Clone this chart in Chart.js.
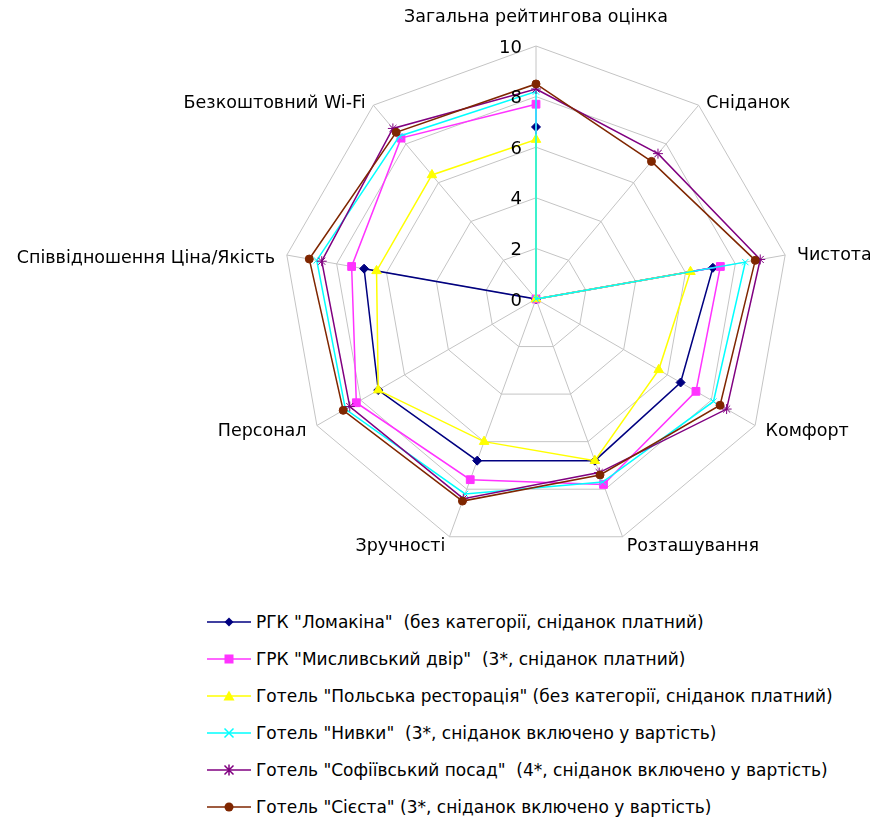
<!DOCTYPE html>
<html lang="uk">
<head>
<meta charset="utf-8">
<title>Порівняння готелів</title>
<script src="https://cdn.jsdelivr.net/npm/chart.js@4.4.1/dist/chart.umd.min.js"></script>
<style>
  html, body { margin: 0; padding: 0; background: #fff; }
  #page { position: relative; width: 870px; height: 819px; overflow: hidden; font-family: "DejaVu Sans", sans-serif; }
  #radar-box { position: absolute; left: 0; top: 0; width: 870px; height: 590px; }
  #legend { position: absolute; left: 207px; top: 603px; }
  .legend-row { height: 37px; display: flex; align-items: center; white-space: pre; font-size: 17px; color: #000; }
  .legend-row svg { width: 44px; height: 16px; margin-right: 5px; flex: none; }
</style>
</head>
<body>
<div id="page">
  <div id="radar-box"><canvas id="radar" width="870" height="590"></canvas></div>
  <div id="legend"></div>
</div>
<script>
// осі діаграми
var categories = [
  "Загальна рейтингова оцінка",
  "Сніданок",
  "Чистота",
  "Комфорт",
  "Розташування",
  "Зручності",
  "Персонал",
  "Співвідношення Ціна/Якість",
  "Безкоштовний Wi-Fi"
];

var hotelNames = [
  'РГК "Ломакіна"  (без категорії, сніданок платний)',
  'ГРК "Мисливський двір"  (3*, сніданок платний)',
  'Готель "Польська ресторація" (без категорії, сніданок платний)',
  'Готель "Нивки"  (3*, сніданок включено у вартість)',
  'Готель "Софіївський посад"  (4*, сніданок включено у вартість)',
  'Готель "Сієста" (3*, сніданок включено у вартість)'
];

// оцінки (порядок як у categories)
var lomakina    = [6.8, 0,   7.1, 6.6, 6.8, 6.8, 7.2, 6.9, 0];
var myslyvskyi  = [7.7, 0,   7.4, 7.3, 7.8, 7.6, 8.2, 7.4, 8.3];
var polska      = [6.3, 0,   6.2, 5.6, 6.8, 6.0, 7.2, 6.4, 6.4];
var nyvky       = [8.2, 0,   8.4, 8.1, 7.7, 8.2, 8.7, 8.8, 8.4];
var sofiivskyi  = [8.3, 7.5, 9.0, 8.7, 7.3, 8.4, 8.5, 8.6, 8.8];
var siesta      = [8.5, 7.1, 8.8, 8.4, 7.4, 8.5, 8.8, 9.1, 8.6];

var tickValues = [0, 2, 4, 6, 8, 10];

var seriesColors = ["#000080", "#ff33ff", "#ffff00", "#00ffff", "#800080", "#7f2600"];
var markerStyles = ["rectRot", "rect", "triangle", "crossRot", "star", "circle"];
var markerSizes  = [4.5, 5.5, 5.5, 4.5, 5, 4];

// зсув підписів осей по вертикалі відносно вершини сітки
var labelShiftY = [-29, -2, 0, 6, 10, 10, 6, 3, -2];

(function () {
  var allSeries = [lomakina, myslyvskyi, polska, nyvky, sofiivskyi, siesta];

  var axisLabelsPlugin = {
    id: "axisLabels",
    afterDraw: function (chart) {
      var r = chart.scales.r;
      var ctx = chart.ctx;
      ctx.save();
      ctx.fillStyle = "#000";
      ctx.font = '17.5px "DejaVu Sans"';
      ctx.textBaseline = "middle";
      categories.forEach(function (name, i) {
        var outer = r.getPointPosition(i, r.drawingArea + 12);
        var vertex = r.getPointPosition(i, r.drawingArea);
        if (Math.abs(outer.x - r.xCenter) < 3) ctx.textAlign = "center";
        else ctx.textAlign = outer.x > r.xCenter ? "left" : "right";
        ctx.fillText(name, outer.x, vertex.y + labelShiftY[i]);
      });

      // значення шкали ліворуч від вертикальної осі
      ctx.font = '18px "DejaVu Sans"';
      ctx.textAlign = "right";
      tickValues.forEach(function (v) {
        var d = r.getDistanceFromCenterForValue(v);
        ctx.fillText(String(v), r.xCenter - 14, r.yCenter - d + 2);
      });
      ctx.restore();
    }
  };

  var datasets = allSeries.map(function (values, i) {
    return {
      label: hotelNames[i],
      data: values,
      borderColor: seriesColors[i],
      backgroundColor: seriesColors[i],
      borderWidth: 1.5,
      fill: false,
      pointStyle: markerStyles[i],
      pointRadius: markerSizes[i],
      pointBorderColor: seriesColors[i],
      pointBackgroundColor: seriesColors[i],
      pointBorderWidth: 1,
      order: allSeries.length - i
    };
  });

  new Chart(document.getElementById("radar"), {
    type: "radar",
    data: { labels: categories, datasets: datasets },
    options: {
      responsive: false,
      animation: false,
      layout: { padding: { top: 46, bottom: 38, left: 202, right: 0 } },
      plugins: {
        legend: { display: false },
        tooltip: { enabled: false }
      },
      elements: { line: { tension: 0 } },
      scales: {
        r: {
          min: 0,
          max: 10,
          ticks: { stepSize: 2, display: false },
          grid: { color: "#c4c4c4", lineWidth: 1 },
          angleLines: { color: "#c4c4c4", lineWidth: 1 },
          pointLabels: { display: false }
        }
      }
    },
    plugins: [axisLabelsPlugin]
  });

  // легенда як у Excel: лінія з маркером і підпис
  function markerSvg(style, color) {
    var line = '<line x1="0" y1="8" x2="44" y2="8" stroke="' + color + '" stroke-width="1.5"/>';
    var m = "";
    if (style === "rectRot") {
      m = '<polygon points="22,3.5 26.5,8 22,12.5 17.5,8" fill="' + color + '"/>';
    } else if (style === "rect") {
      m = '<rect x="17.5" y="3.5" width="9" height="9" fill="' + color + '"/>';
    } else if (style === "triangle") {
      m = '<polygon points="22,2.5 27.5,12.5 16.5,12.5" fill="' + color + '"/>';
    } else if (style === "crossRot") {
      m = '<path d="M17.5 3.5 L26.5 12.5 M26.5 3.5 L17.5 12.5" stroke="' + color + '" stroke-width="1.5"/>';
    } else if (style === "star") {
      m = '<path d="M17.5 3.5 L26.5 12.5 M26.5 3.5 L17.5 12.5 M22 2.5 L22 13.5" stroke="' + color + '" stroke-width="1.5"/>';
    } else {
      m = '<circle cx="22" cy="8" r="4.5" fill="' + color + '"/>';
    }
    return '<svg viewBox="0 0 44 16">' + line + m + "</svg>";
  }

  var html = "";
  hotelNames.forEach(function (name, i) {
    html += '<div class="legend-row">' + markerSvg(markerStyles[i], seriesColors[i]) +
      "<span></span></div>";
  });
  var legend = document.getElementById("legend");
  legend.innerHTML = html;
  var spans = legend.querySelectorAll("span");
  hotelNames.forEach(function (name, i) { spans[i].textContent = name; });
})();
</script>
</body>
</html>
